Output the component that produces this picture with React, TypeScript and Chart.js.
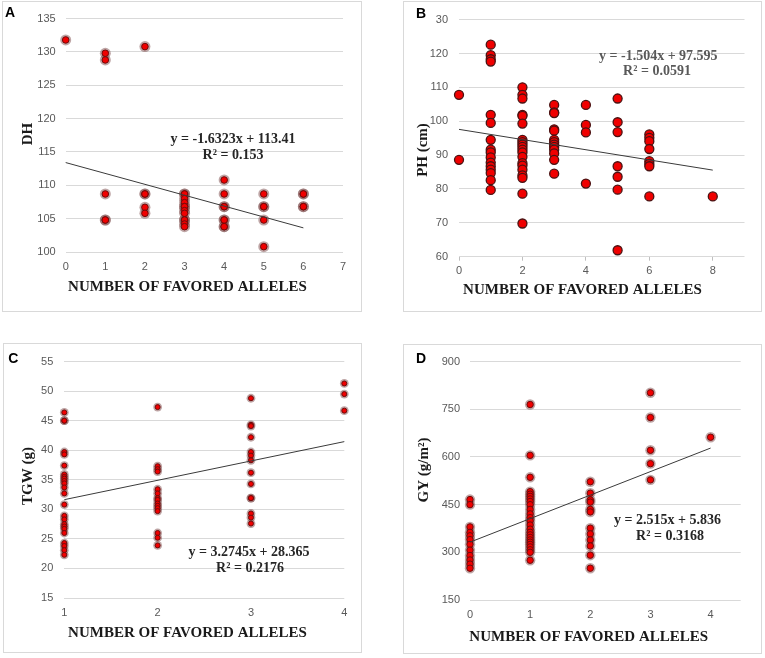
import React, { useEffect, useRef } from "react";
import { Chart, registerables } from "chart.js";

Chart.register(...registerables);

// ---------- Panel A: DH ----------
const dhAlleles = [0, 1, 1, 1, 1, 1, 2, 2, 2, 2, 2, 3, 3, 3, 3, 3, 3, 3, 3, 3, 3, 3, 3, 4, 4, 4, 4, 4, 4, 4, 4, 5, 5, 5, 5, 5, 6, 6, 6, 6];
const dhValues = [131.8, 129.8, 128.8, 108.7, 104.8, 104.8, 130.8, 108.7, 108.7, 106.7, 105.8, 108.7, 108.7, 108.0, 107.4, 106.8, 106.8, 106.2, 105.8, 104.8, 104.8, 104.2, 103.8, 110.8, 108.7, 106.8, 106.8, 104.8, 104.8, 103.8, 103.8, 108.7, 106.8, 106.8, 104.8, 100.8, 108.7, 108.7, 106.8, 106.8];
const dhTrendX = [0, 6];
const dhTrendY = [113.41, 103.62];

// ---------- Panel B: PH ----------
const phAlleles = [
  0, 0,
  1, 1, 1, 1, 1, 1, 1, 1, 1, 1, 1, 1, 1, 1, 1, 1,
  2, 2, 2, 2, 2, 2, 2, 2, 2, 2, 2, 2, 2, 2, 2, 2, 2, 2, 2, 2,
  3, 3, 3, 3, 3, 3, 3, 3, 3, 3, 3, 3, 3,
  4, 4, 4, 4,
  5, 5, 5, 5, 5, 5, 5,
  6, 6, 6, 6, 6, 6, 6, 6,
  8,
];
const phValues = [
  107.8, 88.6,
  122.6, 119.5, 118.3, 117.6, 101.9, 99.5, 94.5, 91.6, 90.8, 89.3, 87.8, 86.7, 85.7, 84.7, 82.6, 79.7,
  110.0, 107.8, 106.7, 101.9, 101.6, 99.3, 94.5, 93.8, 93.1, 92.4, 91.6, 90.8, 89.5, 87.6, 86.9, 85.7, 84.0, 83.3, 78.6, 69.8,
  104.8, 102.6, 102.4, 97.6, 97.2, 94.5, 93.8, 93.1, 92.4, 91.6, 90.5, 88.6, 84.5,
  104.8, 98.9, 96.7, 81.6,
  106.7, 99.7, 96.8, 86.7, 83.6, 79.8, 61.9,
  96.1, 95.1, 94.1, 91.8, 88.2, 87.4, 86.7, 77.8,
  77.8,
];
const phTrendX = [0, 8];
const phTrendY = [97.595, 85.56];
const phTickLabels = ["60", "70", "80", "90", "100", "110", "120", "30"];

// ---------- Panel C: TGW ----------
const tgwAlleles = [
  1, 1, 1, 1, 1, 1, 1, 1, 1, 1, 1, 1, 1, 1, 1, 1, 1, 1, 1, 1, 1, 1, 1, 1,
  2, 2, 2, 2, 2, 2, 2, 2, 2, 2, 2, 2, 2, 2, 2,
  3, 3, 3, 3, 3, 3, 3, 3, 3, 3, 3, 3, 3, 3,
  4, 4, 4,
];
const tgwValues = [
  46.4, 45.0, 45.0, 39.7, 39.3, 37.4, 35.9, 35.5, 35.2, 34.8, 34.4, 33.7, 32.7, 30.8, 28.9, 28.3, 27.5, 27.1, 26.7, 26.0, 24.3, 23.8, 23.1, 22.3,
  47.3, 37.3, 36.8, 36.4, 33.4, 32.7, 31.9, 31.6, 31.0, 30.6, 30.2, 29.7, 26.0, 25.2, 23.9,
  48.8, 44.3, 44.1, 42.2, 39.7, 39.1, 38.3, 36.2, 34.3, 31.9, 31.9, 29.3, 28.6, 27.6,
  51.3, 49.5, 46.7,
];
const tgwTrendX = [1, 4];
const tgwTrendY = [31.64, 41.46];

// ---------- Panel D: GY ----------
const gyAlleles = [
  0, 0, 0, 0, 0, 0, 0, 0, 0, 0, 0, 0,
  1, 1, 1, 1, 1, 1, 1, 1, 1, 1, 1, 1, 1, 1, 1, 1, 1, 1, 1, 1, 1, 1, 1, 1, 1,
  2, 2, 2, 2, 2, 2, 2, 2, 2, 2, 2, 2,
  3, 3, 3, 3, 3,
  4,
];
const gyValues = [
  466, 450, 380, 363, 352, 340, 325, 307, 290, 276, 263, 250,
  765, 605, 536, 491, 483, 476, 468, 460, 450, 435, 421, 409, 399, 386, 373, 363, 355, 347, 339, 332, 325, 317, 308, 300, 275,
  522, 486, 465, 458, 435, 427, 376, 358, 339, 320, 291, 250,
  802, 724, 621, 579, 528,
  662,
];
const gyTrendX = [0, 4];
const gyTrendY = [332, 628];

// ---------- Text ----------
const X_TITLE = "NUMBER OF FAVORED ALLELES";
const EQ_A = ["y = -1.6323x + 113.41", "R² = 0.153"];
const EQ_B = ["y = -1.504x + 97.595", "R² = 0.0591"];
const EQ_C = ["y = 3.2745x + 28.365", "R² = 0.2176"];
const EQ_D = ["y = 2.515x + 5.836", "R² = 0.3168"];

const GRID = "#d9d9d9";
const TICK_COLOR = "#595959";
const TICK_FONT = { family: "'Liberation Sans', Arial, sans-serif", size: 11 };
const EQ_FONT = "bold 14px 'Liberation Serif', 'Times New Roman', serif";
const AX_FONT = "bold 15px 'Liberation Serif', 'Times New Roman', serif";
const LETTER_FONT = "bold 14px 'Liberation Sans', Arial, sans-serif";

type TextItem = {
  text: string;
  x: number;
  y: number;
  font: string;
  color: string;
  align?: CanvasTextAlign;
  baseline?: CanvasTextBaseline;
  rotate?: number;
};

type PanelCfg = {
  box: { left: number; top: number; width: number; height: number };
  plot: { l: number; r: number; t: number; b: number };
  xs: number[];
  ys: number[];
  trendX: number[];
  trendY: number[];
  xMin: number;
  xMax: number;
  xStep: number;
  xKeep: (v: number) => boolean;
  yMin: number;
  yMax: number;
  yStep: number;
  yLabel?: (v: number, i: number) => string;
  xTickMarks: boolean;
  xPad: number;
  yPad: number;
  halo: boolean;
  coreR: number;
  haloR: number;
  texts: TextItem[];
};

const panels: PanelCfg[] = [
  {
    box: { left: 2, top: 1, width: 360, height: 311 },
    plot: { l: 65.7, r: 343, t: 15, b: 252 },
    xs: dhAlleles, ys: dhValues, trendX: dhTrendX, trendY: dhTrendY,
    xMin: 0, xMax: 7, xStep: 1, xKeep: () => true,
    yMin: 100, yMax: 135, yStep: 5,
    xTickMarks: false, xPad: 8, yPad: 10,
    halo: true, coreR: 3.3, haloR: 5.5,
    texts: [
      { text: "A", x: 5, y: 17, font: LETTER_FONT, color: "#000", align: "left", baseline: "alphabetic" },
      { text: EQ_A[0], x: 233, y: 139.3, font: EQ_FONT, color: "#262626" },
      { text: EQ_A[1], x: 233, y: 155, font: EQ_FONT, color: "#262626" },
      { text: X_TITLE, x: 187.5, y: 287.5, font: AX_FONT, color: "#1a1a1a" },
      { text: "DH", x: 28, y: 134, font: AX_FONT, color: "#1a1a1a", rotate: -Math.PI / 2 },
    ],
  },
  {
    box: { left: 403, top: 1, width: 359, height: 311 },
    plot: { l: 459, r: 744.5, t: 14.3, b: 256.7 },
    xs: phAlleles, ys: phValues, trendX: phTrendX, trendY: phTrendY,
    xMin: 0, xMax: 9, xStep: 2, xKeep: (v) => v % 2 === 0,
    yMin: 60, yMax: 130, yStep: 10,
    yLabel: (_v, i) => phTickLabels[i],
    xTickMarks: true, xPad: 4, yPad: 11,
    halo: false, coreR: 4.5, haloR: 0,
    texts: [
      { text: "B", x: 416, y: 18.3, font: LETTER_FONT, color: "#000", align: "left", baseline: "alphabetic" },
      { text: EQ_B[0], x: 658.3, y: 56, font: EQ_FONT, color: "#595959" },
      { text: EQ_B[1], x: 657, y: 71.7, font: EQ_FONT, color: "#595959" },
      { text: X_TITLE, x: 582.5, y: 290, font: AX_FONT, color: "#1a1a1a" },
      { text: "PH (cm)", x: 422.7, y: 150, font: AX_FONT, color: "#1a1a1a", rotate: -Math.PI / 2 },
    ],
  },
  {
    box: { left: 3, top: 343, width: 359, height: 310 },
    plot: { l: 64.3, r: 344.3, t: 356.7, b: 598 },
    xs: tgwAlleles, ys: tgwValues, trendX: tgwTrendX, trendY: tgwTrendY,
    xMin: 1, xMax: 4, xStep: 1, xKeep: () => true,
    yMin: 15, yMax: 55, yStep: 5,
    xTickMarks: false, xPad: 8, yPad: 11,
    halo: true, coreR: 2.5, haloR: 4.4,
    texts: [
      { text: "C", x: 8.3, y: 363.3, font: LETTER_FONT, color: "#000", align: "left", baseline: "alphabetic" },
      { text: EQ_C[0], x: 249, y: 552.3, font: EQ_FONT, color: "#262626" },
      { text: EQ_C[1], x: 250, y: 568.3, font: EQ_FONT, color: "#262626" },
      { text: X_TITLE, x: 187.5, y: 633.3, font: AX_FONT, color: "#1a1a1a" },
      { text: "TGW (g)", x: 28.3, y: 476, font: AX_FONT, color: "#1a1a1a", rotate: -Math.PI / 2 },
    ],
  },
  {
    box: { left: 403, top: 344, width: 359, height: 310 },
    plot: { l: 470, r: 740.7, t: 358.3, b: 600 },
    xs: gyAlleles, ys: gyValues, trendX: gyTrendX, trendY: gyTrendY,
    xMin: 0, xMax: 4.5, xStep: 1, xKeep: (v) => Number.isInteger(v),
    yMin: 150, yMax: 900, yStep: 150,
    xTickMarks: false, xPad: 8, yPad: 10,
    halo: true, coreR: 3.2, haloR: 5.2,
    texts: [
      { text: "D", x: 416, y: 363.3, font: LETTER_FONT, color: "#000", align: "left", baseline: "alphabetic" },
      { text: EQ_D[0], x: 667.5, y: 520.7, font: EQ_FONT, color: "#262626" },
      { text: EQ_D[1], x: 670, y: 536.7, font: EQ_FONT, color: "#262626" },
      { text: X_TITLE, x: 588.7, y: 636.7, font: AX_FONT, color: "#1a1a1a" },
      { text: "GY (g/m²)", x: 424, y: 470, font: AX_FONT, color: "#1a1a1a", rotate: -Math.PI / 2 },
    ],
  },
];

function PanelChart({ p }: { p: PanelCfg }) {
  const ref = useRef<HTMLCanvasElement>(null);
  const cw = p.box.width - 2;
  const ch = p.box.height - 2;

  useEffect(() => {
    if (!ref.current) return;
    const ox = p.box.left + 1;
    const oy = p.box.top + 1;
    const pts = p.xs.map((x, i) => ({ x, y: p.ys[i] }));
    const trend = p.trendX.map((x, i) => ({ x, y: p.trendY[i] }));

    const textPlugin = {
      id: "panelTexts",
      afterDraw(chart: any) {
        const ctx: CanvasRenderingContext2D = chart.ctx;
        for (const t of p.texts) {
          ctx.save();
          ctx.font = t.font;
          ctx.fillStyle = t.color;
          ctx.textAlign = t.align ?? "center";
          ctx.textBaseline = t.baseline ?? "middle";
          ctx.translate(t.x - ox, t.y - oy);
          if (t.rotate) ctx.rotate(t.rotate);
          ctx.fillText(t.text, 0, 0);
          ctx.restore();
        }
      },
    };

    const datasets: any[] = [
      {
        data: trend,
        showLine: true,
        borderColor: "#3a3a3a",
        borderWidth: 1,
        pointRadius: 0,
        fill: false,
        clip: false,
      },
      {
        data: pts,
        pointRadius: p.coreR,
        pointBackgroundColor: "#f00000",
        pointBorderColor: p.halo ? "#6e0a0a" : "#4a1212",
        pointBorderWidth: p.halo ? 1 : 1.3,
        clip: false,
      },
    ];
    if (p.halo) {
      datasets.push({
        data: pts,
        pointRadius: p.haloR,
        pointBackgroundColor: "rgba(125,75,75,0.5)",
        pointBorderColor: "rgba(0,0,0,0)",
        pointBorderWidth: 0,
        clip: false,
      });
    }

    const chart = new Chart(ref.current, {
      type: "scatter",
      data: { datasets },
      plugins: [textPlugin],
      options: {
        animation: false,
        responsive: false,
        devicePixelRatio: 1,
        layout: {
          padding: {
            left: 0,
            top: p.plot.t - oy,
            right: ox + cw - p.plot.r,
            bottom: 0,
          },
        },
        plugins: { legend: { display: false }, tooltip: { enabled: false } },
        scales: {
          x: {
            type: "linear",
            min: p.xMin,
            max: p.xMax,
            ticks: {
              stepSize: p.xStep,
              color: TICK_COLOR,
              font: TICK_FONT,
              padding: p.xPad,
              maxRotation: 0,
              autoSkip: false,
            },
            grid: {
              display: p.xTickMarks,
              drawOnChartArea: false,
              drawTicks: p.xTickMarks,
              tickLength: 4,
              color: "#bfbfbf",
            },
            border: { display: false },
            afterBuildTicks: (s: any) => {
              s.ticks = s.ticks.filter((t: any) => p.xKeep(t.value));
            },
            afterFit: (s: any) => {
              s.height = oy + ch - p.plot.b;
            },
          },
          y: {
            type: "linear",
            min: p.yMin,
            max: p.yMax,
            ticks: {
              stepSize: p.yStep,
              color: TICK_COLOR,
              font: TICK_FONT,
              padding: p.yPad,
              callback: (v: any, i: number) => (p.yLabel ? p.yLabel(v, i) : String(v)),
            },
            grid: { color: GRID, lineWidth: 1, drawTicks: false },
            border: { display: false },
            afterFit: (s: any) => {
              s.width = p.plot.l - ox;
            },
          },
        },
      } as any,
    });
    return () => chart.destroy();
  }, [p]);

  return (
    <div
      style={{
        position: "absolute",
        left: p.box.left,
        top: p.box.top,
        width: p.box.width,
        height: p.box.height,
        border: "1px solid #d9d9d9",
        boxSizing: "border-box",
        background: "#fff",
      }}
    >
      <canvas
        ref={ref}
        width={cw}
        height={ch}
        style={{ position: "absolute", left: 0, top: 0, width: cw, height: ch, display: "block" }}
      />
    </div>
  );
}

export default function App() {
  return (
    <div
      style={{
        position: "absolute",
        left: 0,
        top: 0,
        width: 765,
        height: 658,
        background: "#fff",
        overflow: "hidden",
      }}
    >
      {panels.map((p, i) => (
        <PanelChart key={i} p={p} />
      ))}
    </div>
  );
}
